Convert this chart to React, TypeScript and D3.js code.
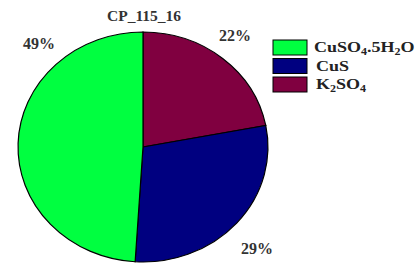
import React from "react";
import * as d3 from "d3";

const categories = ["K2SO4", "CuS", "CuSO4.5H2O"];
const values = [22, 29, 49];
const colors = ["#800040", "#000080", "#00FF40"];
const legendOrder = ["CuSO4.5H2O", "CuS", "K2SO4"];
const title = "CP_115_16";

const W = 416, H = 269;
const cx = 143, cy = 147, rx = 125, ry = 115;

function LegendLabel({ name }: { name: string }) {
  if (name === "CuSO4.5H2O")
    return (
      <>
        CuSO<tspan fontSize="10" dy="3">4</tspan>
        <tspan dy="-3">.5H</tspan>
        <tspan fontSize="10" dy="3">2</tspan>
        <tspan dy="-3">O</tspan>
      </>
    );
  if (name === "K2SO4")
    return (
      <>
        K<tspan fontSize="10" dy="3">2</tspan>
        <tspan dy="-3">SO</tspan>
        <tspan fontSize="10" dy="3">4</tspan>
      </>
    );
  return <>{name}</>;
}

export default function App() {
  const pie = d3.pie<number>().sort(null).value((d) => d);
  const arcs = pie(values);
  const arc = d3.arc<d3.PieArcDatum<number>>().innerRadius(0).outerRadius(1);
  const color = d3.scaleOrdinal<string, string>().domain(categories).range(colors);
  const labelPos: Record<string, [number, number]> = {
    K2SO4: [235, 41],
    CuS: [257, 254],
    "CuSO4.5H2O": [39, 49],
  };
  return (
    <svg width={W} height={H} style={{ position: "absolute", left: 0, top: 0, background: "#fff" }}
      fontFamily="'Liberation Serif', 'Times New Roman', serif" fontWeight="bold">
      <text x={144} y={21} textAnchor="middle" fontSize="15.5" fill="#333">{title}</text>
      <g transform={`translate(${cx},${cy}) scale(${rx},${ry})`}>
        {arcs.map((a, i) => (
          <path key={i} d={arc(a) || ""} fill={color(categories[i])} stroke="#000" strokeWidth={1.2}
            vectorEffect="non-scaling-stroke" />
        ))}
      </g>
      {arcs.map((a, i) => {
        const [x, y] = labelPos[categories[i]];
        return (
          <text key={i} x={x} y={y} textAnchor="middle" fontSize="16" fill="#333">
            {values[i]}%
          </text>
        );
      })}
      {legendOrder.map((name, i) => (
        <g key={name} transform={`translate(273,${40 + i * 18.5})`}>
          <rect width={34} height={15} fill={color(name)} stroke="#000" strokeWidth={1} />
          <g transform={`translate(${i === 0 ? 41 : 43},12) scale(1.2,1)`}>
            <text x={0} y={0} fontSize="15" fill="#222"><LegendLabel name={name} /></text>
          </g>
        </g>
      ))}
    </svg>
  );
}
